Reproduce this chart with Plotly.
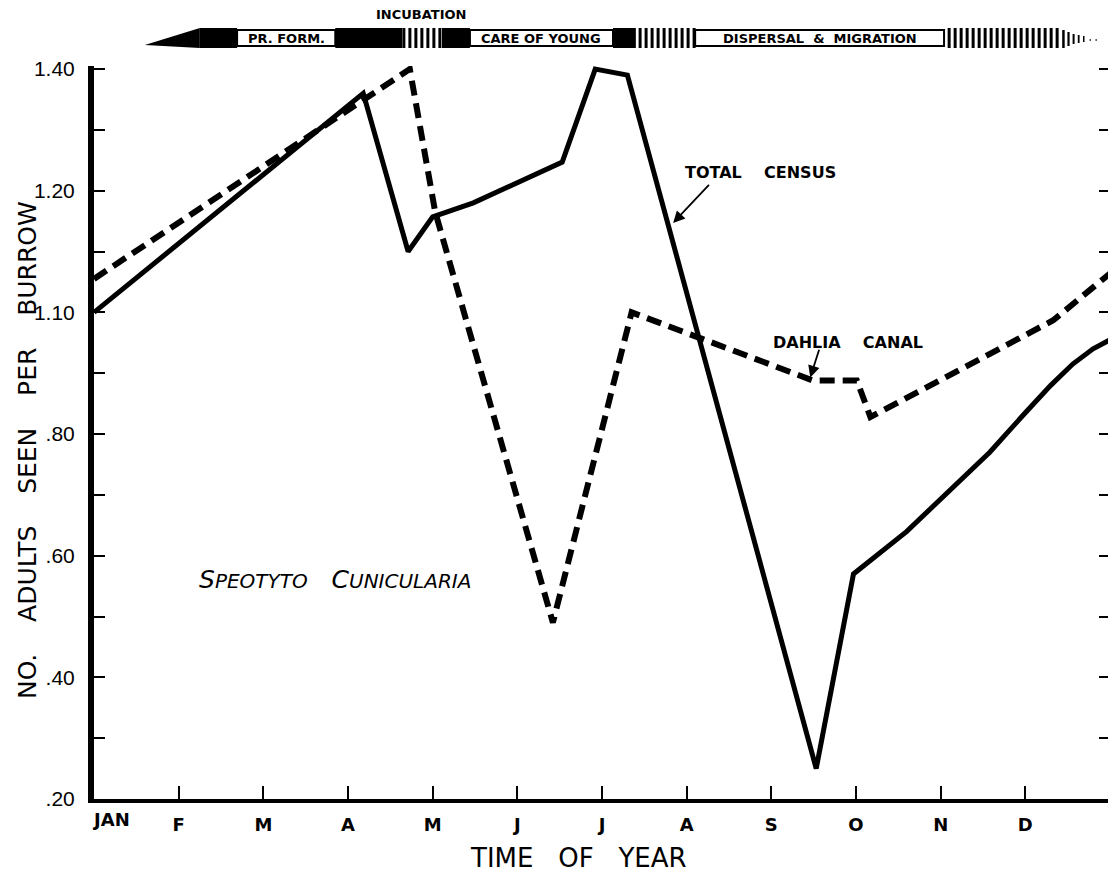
import plotly.graph_objects as go

# ---------------- data ----------------
month_labels = ["JAN", "F", "M", "A", "M", "J", "J", "A", "S", "O", "N", "D"]
month_pos = list(range(12))

total_x = [0.0, 3.18, 3.71, 4.00, 4.48, 5.53, 5.92, 6.30, 8.53, 8.97, 9.60, 10.10, 10.58, 11.00, 11.30, 11.56, 11.80, 12.0]
total_y = [1.00, 1.36, 1.10, 1.157, 1.18, 1.247, 1.40, 1.39, 0.25, 0.57, 0.64, 0.705, 0.77, 0.835, 0.88, 0.915, 0.94, 0.955]

dahlia_x = [0.0, 3.73, 4.03, 5.42, 6.35, 8.49, 9.01, 9.17, 11.33, 12.0]
dahlia_y = [1.055, 1.40, 1.165, 0.49, 1.00, 0.888, 0.888, 0.828, 0.987, 1.064]

y_tickvals = [0.2, 0.3, 0.4, 0.5, 0.6, 0.7, 0.8, 0.9, 1.0, 1.1, 1.2, 1.3, 1.4]
y_ticktext = [".20", "", ".40", "", ".60", "", ".80", "", "1.10", "", "1.20", "", "1.40"]

# phenology bar (in months)
phase_black = [(1.25, 1.69), (2.85, 3.64), (4.11, 4.44), (6.13, 6.40)]
phase_boxes = [(1.69, 2.85, "PR. FORM."), (4.44, 6.13, "CARE OF YOUNG"),
               (7.10, 10.04, "DISPERSAL\u00a0 &\u00a0 MIGRATION")]
phase_hatch = [(3.66, 4.11), (6.45, 7.10), (10.10, 11.41)]

# ---------------- layout helpers ----------------
OFF = 8                      # page body margin
W, H = 1116 - OFF, 877 - OFF
ML, MR, MT, MB = 86, 6, 58, 78
PH = H - MT - MB
PW = W - ML - MR


def pyp(p):
    """screen pixel y -> paper y"""
    return 1 + (MT - (p - OFF)) / PH


def pxp(p):
    """screen pixel x -> paper x"""
    return ((p - OFF) - ML) / PW


def mxp(m):
    return m / 12.0


FONT = "DejaVu Sans"

fig = go.Figure()
fig.add_trace(go.Scatter(x=total_x, y=total_y, mode="lines", name="TOTAL CENSUS",
                         line=dict(color="black", width=5)))
fig.add_trace(go.Scatter(x=dahlia_x, y=dahlia_y, mode="lines", name="DAHLIA CANAL",
                         line=dict(color="black", width=6, dash="15px,8px")))

shapes = []
BT, BB = 28, 48   # bar top/bottom pixel
XT, XB = 30, 46   # box top/bottom pixel
shapes.append(dict(type="path", xref="paper", yref="paper",
                   path=f"M {mxp(0.60)},{pyp(45)} L {mxp(1.25)},{pyp(BT)} L {mxp(1.25)},{pyp(BB)} Z",
                   fillcolor="black", line=dict(width=0)))
for a, b in phase_black:
    shapes.append(dict(type="rect", xref="paper", yref="paper", x0=mxp(a), x1=mxp(b),
                       y0=pyp(BB), y1=pyp(BT), fillcolor="black", line=dict(width=0)))
for a, b, _t in phase_boxes:
    shapes.append(dict(type="rect", xref="paper", yref="paper", x0=mxp(a), x1=mxp(b),
                       y0=pyp(XB), y1=pyp(XT), fillcolor="white", line=dict(color="black", width=2)))
step = 6.0 / (PW / 12.0)
for a, b in phase_hatch:
    m = a
    while m <= b:
        shapes.append(dict(type="line", xref="paper", yref="paper", x0=mxp(m), x1=mxp(m),
                           y0=pyp(BB), y1=pyp(BT), line=dict(color="black", width=3)))
        m += step
tail = [(11.45, 9, 2.5), (11.51, 7, 2.2), (11.57, 5, 2), (11.63, 4, 1.8), (11.69, 3, 1.5)]
for m, h, w in tail:
    shapes.append(dict(type="line", xref="paper", yref="paper", x0=mxp(m), x1=mxp(m),
                       y0=pyp(39 + h), y1=pyp(39 - h), line=dict(color="black", width=w)))
for m in (11.76, 11.83):
    shapes.append(dict(type="line", xref="paper", yref="paper", x0=mxp(m), x1=mxp(m + 0.012),
                       y0=pyp(40), y1=pyp(40), line=dict(color="black", width=2)))


def txt(x, y, text, size, bold=False, xref="paper", yref="paper", xanchor="center", **kw):
    f = dict(family=FONT, size=size, color="black")
    if bold:
        f["weight"] = "bold"
    return dict(xref=xref, yref=yref, x=x, y=y, text=text, showarrow=False, font=f,
                xanchor=xanchor, yanchor="middle", **kw)


annotations = []
for a, b, t in phase_boxes:
    annotations.append(txt(mxp((a + b) / 2), pyp((XT + XB) / 2), t, 13, bold=True))
annotations.append(txt(pxp(421), pyp(14), "INCUBATION", 13, bold=True))
annotations.append(txt(pxp(90), pyp(819), "JAN", 18, bold=True, xanchor="left"))
annotations.append(txt(pxp(578), pyp(858), "TIME\u00a0\u00a0\u00a0OF\u00a0\u00a0\u00a0YEAR", 26))
annotations.append(txt(pxp(27), pyp(450),
                       "NO.\u00a0\u00a0\u00a0 ADULTS\u00a0\u00a0\u00a0 SEEN\u00a0\u00a0\u00a0 PER\u00a0\u00a0\u00a0 BURROW", 25,
                       textangle=-90))
annotations.append(txt(2.85, 0.561,
                       "<i>S<span style='font-size:20px'>PEOTYTO</span>\u00a0\u00a0\u00a0C<span style='font-size:20px'>UNICULARIA</span></i>",
                       25, xref="x", yref="y"))
annotations.append(txt(pxp(760), pyp(172), "TOTAL\u00a0\u00a0\u00a0 CENSUS", 16, bold=True))
annotations.append(txt(pxp(848), pyp(342), "DAHLIA\u00a0\u00a0\u00a0 CANAL", 16, bold=True))
annotations.append(dict(x=6.84, y=1.147, ax=7.28, ay=1.212, axref="x", ayref="y", text="",
                        showarrow=True, arrowhead=2, arrowsize=1.3, arrowwidth=1.8, arrowcolor="black"))
annotations.append(dict(x=8.46, y=0.893, ax=8.57, ay=0.941, axref="x", ayref="y", text="",
                        showarrow=True, arrowhead=2, arrowsize=1.3, arrowwidth=1.8, arrowcolor="black"))

fig.update_layout(
    width=W, height=H, margin=dict(l=ML, r=MR, t=MT, b=MB, autoexpand=False),
    paper_bgcolor="white", plot_bgcolor="white", showlegend=False,
    shapes=shapes, annotations=annotations,
    xaxis=dict(range=[0, 12], showgrid=False, zeroline=False, showline=True, linewidth=4,
               linecolor="black", ticks="inside", ticklen=13, tickwidth=2, tickcolor="black",
               tickvals=month_pos[1:], ticktext=month_labels[1:], ticklabelstandoff=6,
               tickfont=dict(family=FONT, size=18, color="black", weight="bold")),
    yaxis=dict(range=[0.2, 1.405], showgrid=False, zeroline=False, showline=True, linewidth=6,
               linecolor="black", mirror="ticks", ticks="inside", ticklen=11, tickwidth=2,
               tickcolor="black", tickvals=y_tickvals, ticktext=y_ticktext, ticklabelstandoff=9,
               tickfont=dict(family="Liberation Sans", size=21, color="black")),
)

fig.write_html("out.html")
